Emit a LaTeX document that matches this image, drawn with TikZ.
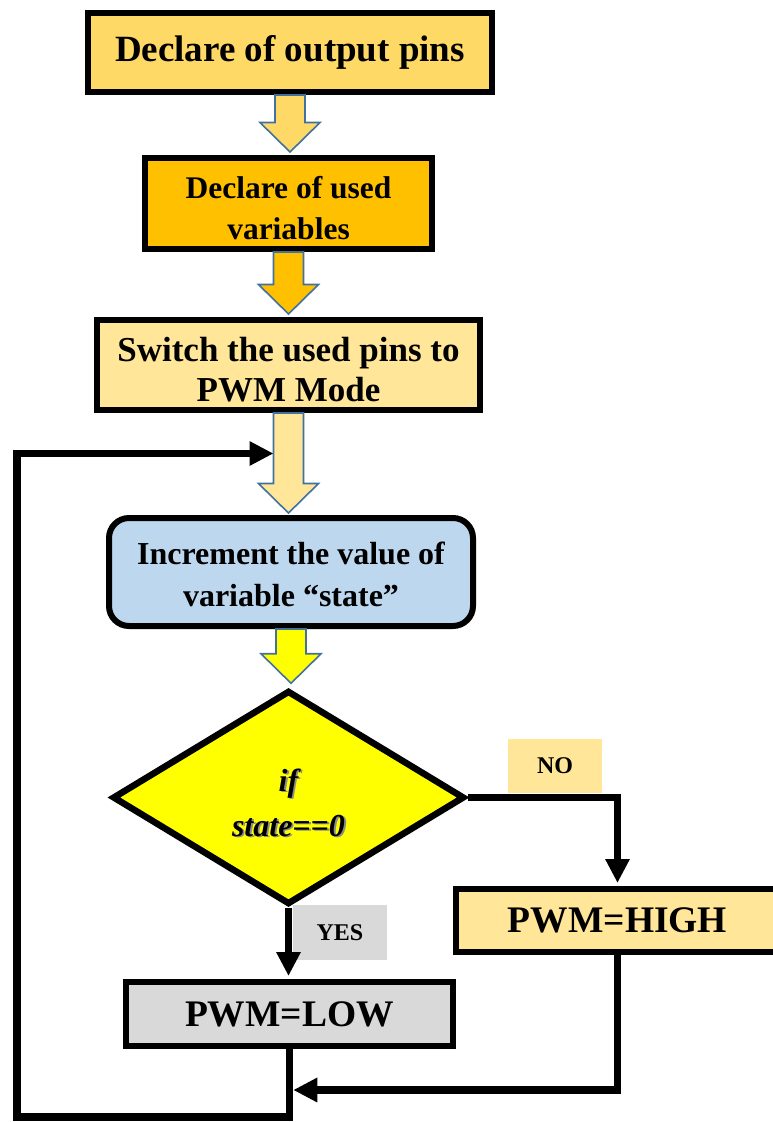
\documentclass[tikz,border=0pt]{standalone}
\usepackage{fontspec}
\setmainfont{Liberation Serif}
\usetikzlibrary{arrows.meta,shapes.geometric,calc}

\definecolor{goldA}{HTML}{FFD966}
\definecolor{goldB}{HTML}{FFC000}
\definecolor{goldC}{HTML}{FFE699}
\definecolor{skyA}{HTML}{BDD7EE}
\definecolor{greyA}{HTML}{D9D9D9}
\definecolor{yell}{HTML}{FFFF00}
\definecolor{edgeblue}{HTML}{41719C}

\begin{document}
\begin{tikzpicture}[x=1pt,y=-1pt,
  box/.style={draw=black, line width=6pt, inner sep=0pt, align=center},
  label text/.style={align=center, inner sep=0pt},
  tag/.style={inner sep=0pt, font=\bfseries\fontsize{24}{24}\selectfont},
  flow/.style={line width=7.5pt, -{Triangle[length=24pt,width=23pt]}},
  fat/.style={draw=edgeblue, line width=1.6pt, line join=miter,
    to path={let \p1=(\tikztostart), \p2=(\tikztotarget) in
      (\x1-15pt,\y1) -- (\x1+15pt,\y1) -- (\x1+15pt,\y2+29.5pt) -- (\x1+30pt,\y2+29.5pt)
      -- (\x1,\y2) -- (\x1-30pt,\y2+29.5pt) -- (\x1-15pt,\y2+29.5pt) -- cycle}}
]
\path[use as bounding box, fill=white] (0,0) rectangle (773,1122);

% process boxes
\node[box, fill=goldA, minimum width=404pt, minimum height=79pt,
      font=\bfseries\fontsize{37}{37}\selectfont] (b1) at (290,52.5) {Declare of output pins};
\node[box, fill=goldB, minimum width=287pt, minimum height=91pt] (b2) at (288.5,203.5) {};
\node[label text, font=\bfseries\fontsize{31.5}{41}\selectfont] (b2t) at ($(b2)+(0,5)$)
      {Declare of used\\variables};
\node[box, fill=goldC, minimum width=383pt, minimum height=90pt] (b3) at (288.5,365) {};
\node[label text, font=\bfseries\fontsize{35}{40}\selectfont] (b3t) at ($(b3)+(0,5)$)
      {Switch the used pins to\\PWM Mode};
\node[box, fill=skyA, rounded corners=20pt, minimum width=364pt, minimum height=108pt] (b4) at (291,572) {};
\node[label text, font=\bfseries\fontsize{32}{42}\selectfont] (b4t) at ($(b4)+(0,2.5)$)
      {Increment the value of\\variable “state”};

% decision
\node[draw=black, line width=6.5pt, fill=yell, diamond, inner sep=0pt,
      minimum width=352pt, minimum height=214pt] (d) at (288.5,797.5) {};
\node[text=black!45, align=center, font=\bfseries\itshape\fontsize{32}{45}\selectfont]
      (dshadow) at (290.3,804.3) {if\\state==0};
\node[align=center, font=\bfseries\itshape\fontsize{32}{45}\selectfont]
      (dtext) at (288.5,802.5) {if\\state==0};

% branch labels
\node[tag, fill=goldC, minimum width=94pt, minimum height=54pt] (no) at (555,766) {NO};
\node[tag, fill=greyA, minimum width=94pt, minimum height=55pt] (yes) at (340,932.5) {YES};

% outcome boxes
\node[box, fill=goldC, minimum width=323pt, minimum height=63pt,
      font=\bfseries\fontsize{37.5}{37}\selectfont] (hi) at (617.5,920.5) {PWM=HIGH};
\node[box, fill=greyA, minimum width=327pt, minimum height=64pt,
      font=\bfseries\fontsize{37.5}{37}\selectfont] (lo) at (289.5,1014) {PWM=LOW};

% block arrows between the steps
\draw[fat, fill=goldA] (b1.south) to ([yshift=3pt]b2.north);
\draw[fat, fill=goldB] (b2.south) to ([yshift=3pt]b3.north);
\draw[fat, fill=goldC] (b3.south) to ([yshift=2pt]b4.north);
\draw[fat, fill=yell]  (b4.south) to ([yshift=4pt]d.north);

% loop and branch connectors
\coordinate (entry) at ($(b3.south)+(-15,40.5)$);
\coordinate (foot) at (17,1117);
\coordinate (merge) at ($(lo.south)+(3.75,41)$);

\draw[flow] (d.east) -| ([yshift=3pt]hi.north);
\draw[flow] (d.south) -- ([yshift=3pt]d.south |- lo.north);
\draw[flow] (hi.south) |- (merge);
\draw[flow] (lo.south) |- (foot) |- (entry);
\end{tikzpicture}
\end{document}
